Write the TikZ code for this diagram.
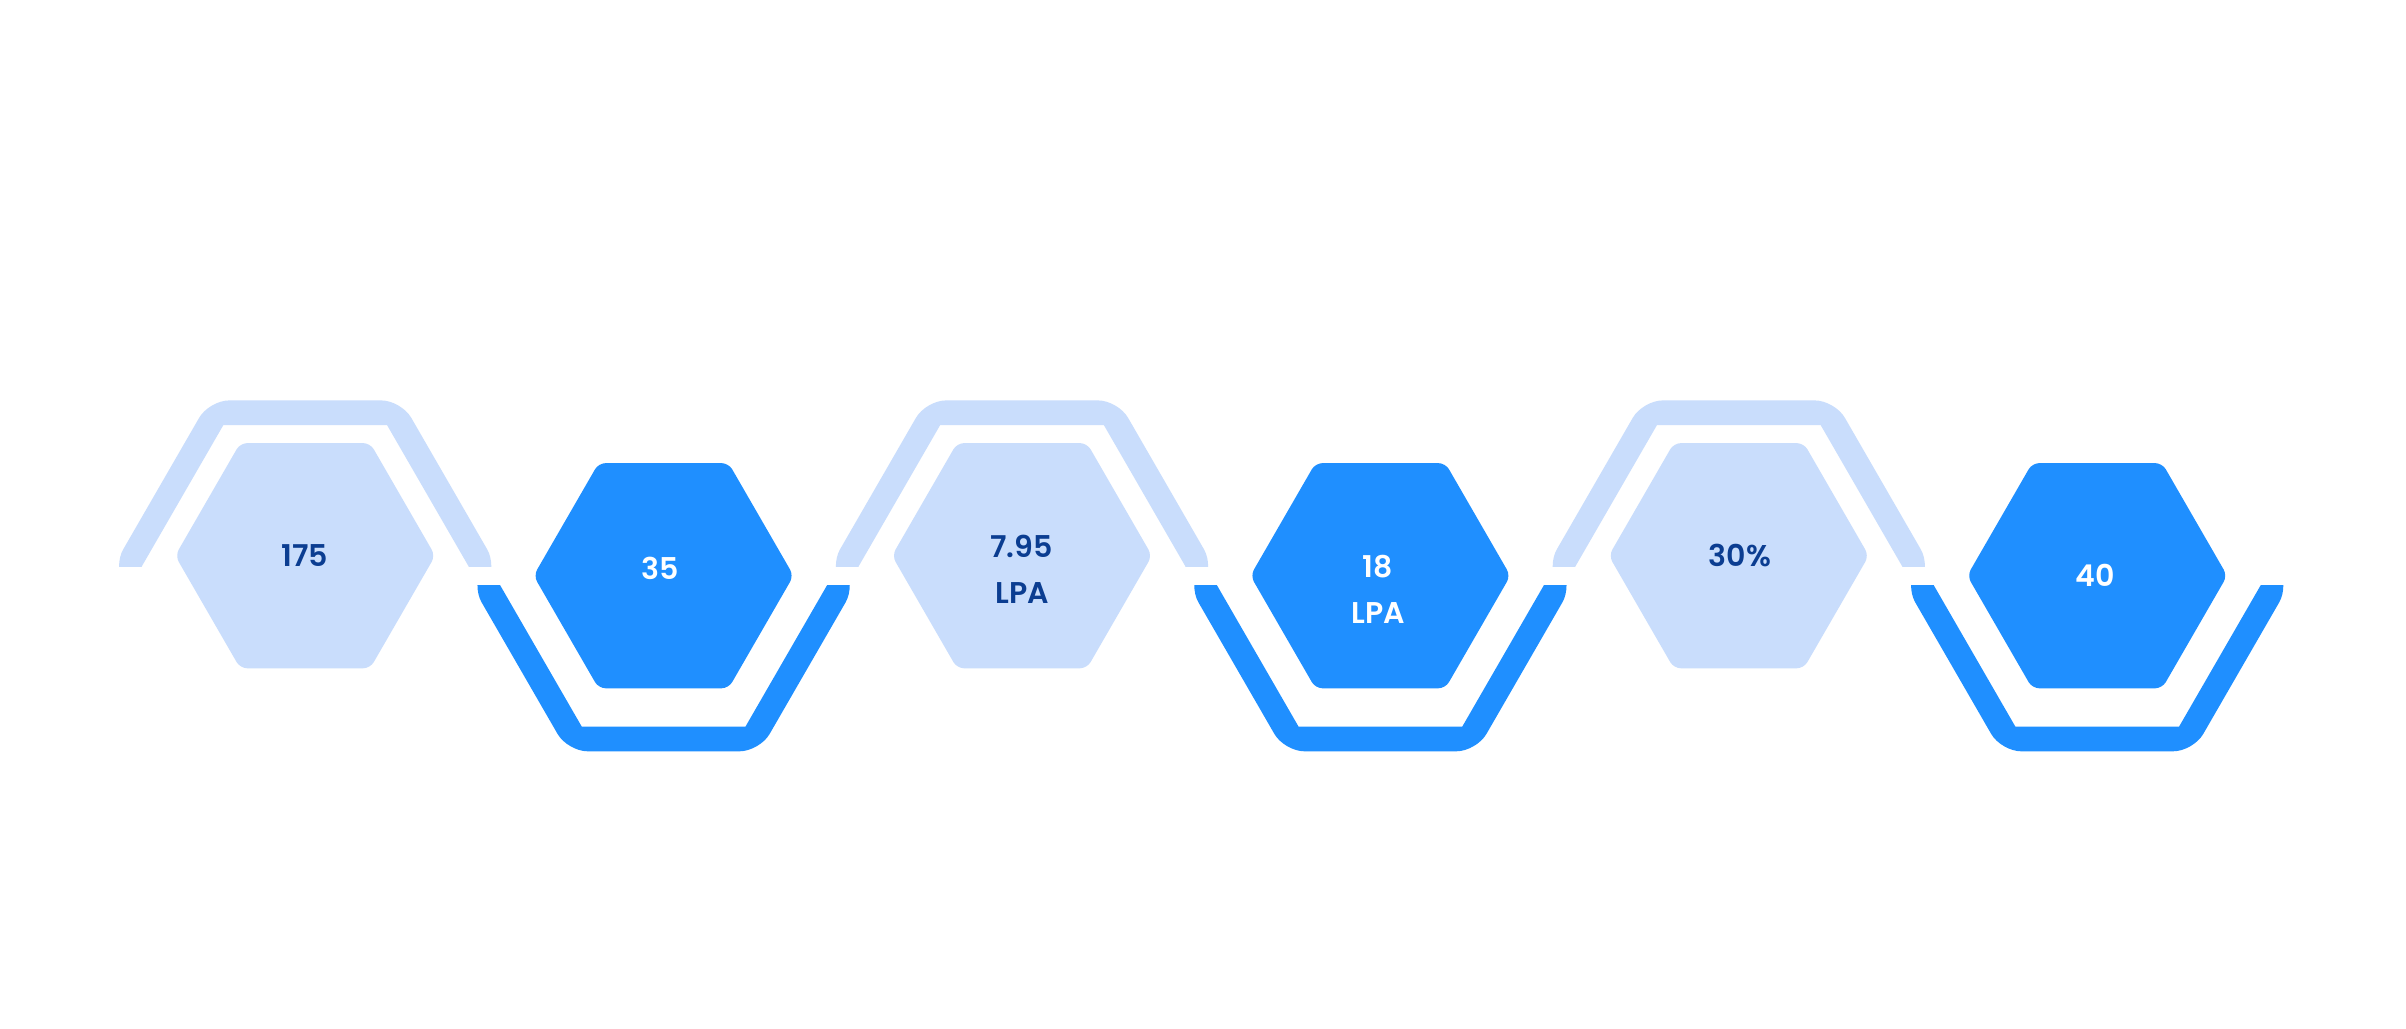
\documentclass[tikz,border=0pt]{standalone}
\usepackage{fontspec}
\setmainfont{Poppins}[BoldFont={Poppins SemiBold}]
\usetikzlibrary{shapes.geometric}
\definecolor{lightblue}{HTML}{C9DDFC}
\definecolor{darkblue}{HTML}{1F8FFF}
\definecolor{navy}{HTML}{0B3D91}
\tikzset{
  hexbox/.style={regular polygon, regular polygon sides=6, minimum size=260pt,
    inner sep=0pt, outer sep=0pt, rounded corners=7pt},
  lighthex/.style={hexbox, fill=lightblue},
  darkhex/.style={hexbox, fill=darkblue},
  num/.style={font=\fontsize{30}{36}\selectfont\bfseries, anchor=base, inner sep=0pt},
  numlight/.style={num, text=navy},
  numdark/.style={num, text=white},
}
\begin{document}
\begin{tikzpicture}[x=1pt,y=-1pt]
\useasboundingbox (0,0) rectangle (2406,1028);
\fill[white] (0,0) rectangle (2406,1028);
% light half rings (top halves)
\foreach \cx in {305.2,1022,1738.8}{
  \begin{scope}
    \clip (\cx-210,380) rectangle (\cx+210,566.7);
    \fill[lightblue, even odd rule]
      [rounded corners=20pt] (\cx-192,566.7) -- (\cx-96,400.4) -- (\cx+96,400.4)
        -- (\cx+192,566.7) -- (\cx+96,733) -- (\cx-96,733) -- cycle
      [sharp corners] (\cx-163.6,566.7) -- (\cx-81.8,425) -- (\cx+81.8,425)
        -- (\cx+163.6,566.7) -- (\cx+81.8,708.4) -- (\cx-81.8,708.4) -- cycle;
  \end{scope}
}
% dark half rings (bottom halves)
\foreach \cx in {663.6,1380.4,2097.2}{
  \begin{scope}
    \clip (\cx-210,585) rectangle (\cx+210,780);
    \fill[darkblue, even odd rule]
      [rounded corners=20pt] (\cx-192,585) -- (\cx-96,418.7) -- (\cx+96,418.7)
        -- (\cx+192,585) -- (\cx+96,751.3) -- (\cx-96,751.3) -- cycle
      [sharp corners] (\cx-163.6,585) -- (\cx-81.8,443.3) -- (\cx+81.8,443.3)
        -- (\cx+163.6,585) -- (\cx+81.8,726.7) -- (\cx-81.8,726.7) -- cycle;
  \end{scope}
}
% hexagons
\node[lighthex] (h1) at (305.2,555.7) {};
\node[darkhex]  (h2) at (663.6,575.7) {};
\node[lighthex] (h3) at (1022,555.7) {};
\node[darkhex]  (h4) at (1380.4,575.7) {};
\node[lighthex] (h5) at (1738.8,555.7) {};
\node[darkhex]  (h6) at (2097.2,575.7) {};
% labels
\node[numlight] (t1) at (305,566) {175};
\node[numdark]  (t2) at (660.5,579) {35};
\node[numlight] (t3a) at (1021.7,557) {7.95};
\node[numlight] (t3b) at (1022,603) {LPA};
\node[numdark]  (t4a) at (1378,577) {18};
\node[numdark]  (t4b) at (1378,623) {LPA};
\node[numlight] (t5) at (1740,566) {30\%};
\node[numdark]  (t6) at (2095.5,586) {40};
\end{tikzpicture}
\end{document}
